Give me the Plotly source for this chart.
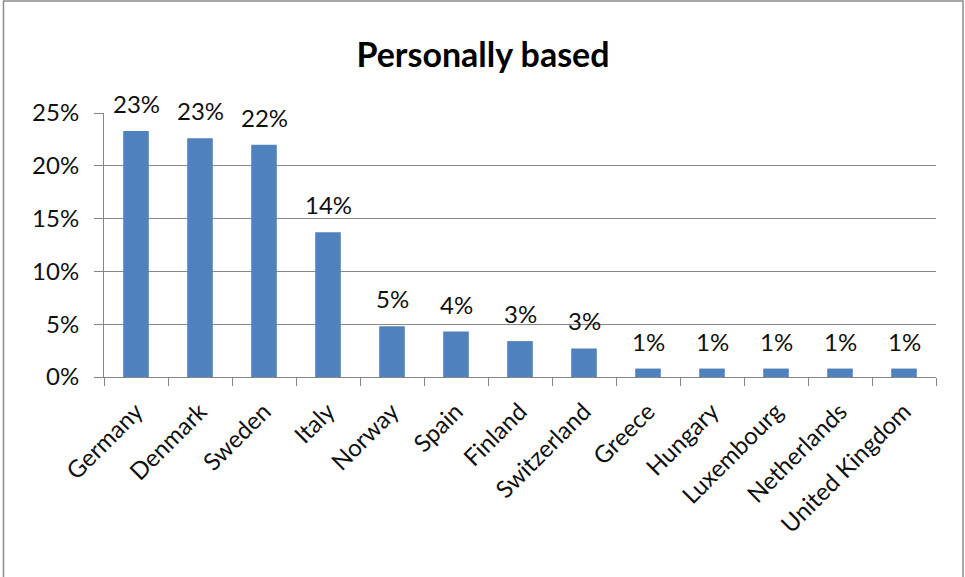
import plotly.graph_objects as go

countries = ["Germany", "Denmark", "Sweden", "Italy", "Norway", "Spain", "Finland",
             "Switzerland", "Greece", "Hungary", "Luxembourg", "Netherlands", "United Kingdom"]
values = [0.233, 0.226, 0.220, 0.137, 0.048, 0.043, 0.034, 0.027, 0.008, 0.008, 0.008, 0.008, 0.008]
labels = [f"{round(v * 100)}%" for v in values]

W, H = 965, 577
ml, mr, mt, mb = 104, 29, 113, 200
pw, ph = W - ml - mr, H - mt - mb

font_family = "Lato, 'Open Sans', sans-serif"

fig = go.Figure()
fig.add_trace(go.Bar(
    x=countries, y=values,
    marker=dict(color="#4F81BD", line=dict(width=0)),
    width=0.4,
    cliponaxis=False,
    hoverinfo="skip",
))

for c, v, t in zip(countries, values, labels):
    fig.add_annotation(x=c, y=v, text=t, showarrow=False, yanchor="bottom",
                       yshift=11, font=dict(size=24, color="#111111", family=font_family))

# outer chart border
fig.add_shape(type="rect", xref="paper", yref="paper",
              x0=(3.5 - ml) / pw, x1=(963 - ml) / pw,
              y0=(H - mb - 600) / ph, y1=(H - mb - 1) / ph,
              line=dict(color="#8C8C8C", width=1.5), fillcolor="rgba(0,0,0,0)", layer="below")

fig.update_layout(
    width=W, height=H,
    margin=dict(l=ml, r=mr, t=mt, b=mb),
    paper_bgcolor="white", plot_bgcolor="white",
    showlegend=False,
    title=dict(text="<b>Personally based</b>", x=483 / W, xanchor="center",
               y=1 - 55 / H, yanchor="middle", xref="container",
               font=dict(size=34, color="#000000", family=font_family)),
    font=dict(family=font_family, color="#111111"),
    xaxis=dict(
        type="category", tickangle=-45, tickson="boundaries", ticks="outside",
        ticklen=8, tickcolor="#868686", showline=True, linecolor="#868686", linewidth=1,
        showgrid=False, tickfont=dict(size=24, color="#111111"), ticklabelstandoff=10,
    ),
    yaxis=dict(
        range=[0, 0.25], dtick=0.05, tickformat=".0%", ticks="outside", ticklen=9,
        tickcolor="#868686", showline=True, linecolor="#868686", linewidth=1,
        showgrid=True, gridcolor="#868686", gridwidth=1, zeroline=False,
        tickfont=dict(size=24, color="#111111"), ticklabelstandoff=10,
    ),
)

fig.write_html("out.html")
